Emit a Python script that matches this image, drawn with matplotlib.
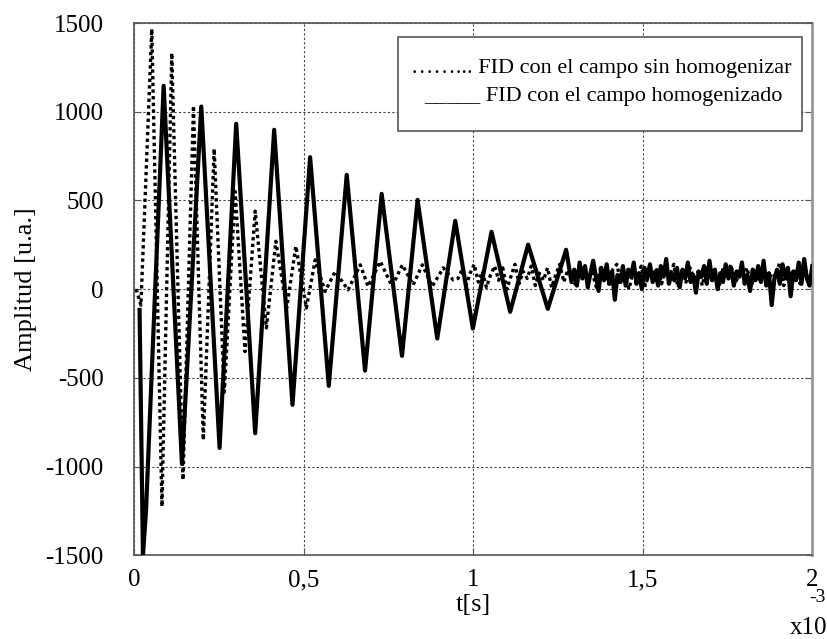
import matplotlib.pyplot as plt
import numpy as np
from matplotlib.patches import Rectangle

plt.rcParams['font.family'] = ['Liberation Serif', 'DejaVu Serif']
plt.rcParams['axes.unicode_minus'] = False

# FID con el campo homogenizado (solid) -- extrema, t in ms
t_hom = [0.016, 0.026, 0.035, 0.087, 0.141, 0.198, 0.252, 0.301, 0.357, 0.413,
         0.467, 0.519, 0.574, 0.627, 0.681, 0.730, 0.790, 0.836, 0.894, 0.947,
         0.999, 1.054, 1.109, 1.162, 1.220, 1.274]
a_hom = [-117, -1500, -1250, 1146, -985, 1029, -895, 932, -812, 898,
         -652, 744, -545, 644, -459, 537, -376, 503, -278, 385,
         -222, 323, -128, 251, -111, 222]
# tail noise of the homogenized FID (1.29 .. 2.0 ms)
noise_hom = [40, 110, 20, 150, 60, 130, 10, 90, 160, 70, -10, 120, 50, 140, 30, 100, -60, 80, 40, 130,
             20, 110, 70, 150, 30, 90, 0, 120, 60, 140, 40, 100, 20, 130, 70, 170, 30, 90, 50, 120,
             10, 110, 60, 150, 40, 80, -20, 100, 70, 130, 30, 160, 50, 110, 0, 90, 40, 140, 60, 120,
             20, 100, 70, 150, 30, 80, -10, 110, 50, 130, 40, 160, 20, 90, -90, 60, 110, 30, 140, 70,
             120, -40, 100, 50, 150, 30, 170, 60, 20, 130]

# FID con el campo sin homogenizar (dotted)
t_sin = [0.006, 0.020, 0.052, 0.082, 0.111, 0.144, 0.175, 0.204, 0.236, 0.266,
         0.298, 0.327, 0.357, 0.390, 0.418, 0.450, 0.477, 0.508, 0.534, 0.563,
         0.593, 0.631, 0.667, 0.690, 0.726, 0.761, 0.791, 0.823, 0.850, 0.879,
         0.912, 0.941]
a_sin = [0, -90, 1466, -1225, 1330, -1075, 1033, -850, 791, -580,
         550, -352, 440, -219, 270, -106, 242, -106, 165, -13,
         99, -4, 137, 15, 156, 15, 137, 24, 137, 15,
         120, 52]
noise_sin = [60, 110, 20, 90, 140, 40, 100, 10, 80, 130, 50, 120, 0, 70, 140, 30, 100, 60, 130, 20,
             90, 50, 120, 10, 80, 140, 40, 110, 60, 20, 100, 130, 50, 90, 10, 120, 70, 30, 110, 140,
             40, 80, 0, 100, 60, 130, 20, 90, 50, 120, 30, 110, 70, 140, 10, 80, 40, 120, 60, 100,
             20, 130, 50, 90, 0, 110, 70, 140, 30, 80, 60, 120, 10, 100, 50, 130, 40, 90, 70, 150,
             20, 110, 60, 100, 30, 140, 50, 80]

xticks = [0, 0.5, 1, 1.5, 2]
xticklabels = ['0', '0,5', '1', '1,5', '2']
yticks = [-1500, -1000, -500, 0, 500, 1000, 1500]

t_hom_all = np.concatenate([t_hom, np.linspace(1.29, 2.0, len(noise_hom))])
a_hom_all = np.concatenate([a_hom, noise_hom])
t_sin_all = np.concatenate([t_sin, np.linspace(0.955, 2.0, len(noise_sin))])
a_sin_all = np.concatenate([a_sin, noise_sin])

fig = plt.figure(figsize=(8.28, 6.39), dpi=100)
ax = fig.add_axes([0.162, 0.131, 0.819, 0.833])

ax.plot(t_hom_all, a_hom_all, color='black', lw=3.0, solid_joinstyle='round', zorder=3)
ax.plot(t_sin_all, a_sin_all, color='black', lw=2.4, linestyle=(0, (1, 1)), zorder=4)

ax.set_xlim(0, 2)
ax.set_ylim(-1500, 1500)
ax.set_xticks(xticks)
ax.set_xticklabels(xticklabels)
ax.set_yticks(yticks)
ax.tick_params(axis='both', labelsize=18, direction='in', length=5, color='#555')
ax.tick_params(axis='x', pad=10)
ax.tick_params(axis='y', pad=22, right=True)
ax.grid(True, color='#444', linestyle=(0, (2, 2)), linewidth=0.8)

for side in ['left', 'bottom', 'top']:
    ax.spines[side].set_color('#555')
    ax.spines[side].set_linewidth(1.2)
ax.spines['right'].set_color('#999')
ax.spines['right'].set_linewidth(2)

ax.set_ylabel('Amplitud [u.a.]', fontsize=19, labelpad=6)
ax.set_xlabel('t[s]', fontsize=19, labelpad=2)

# legend drawn as a text box, like the original
ax.add_patch(Rectangle((0.389, 0.797), 0.596, 0.177, transform=ax.transAxes,
                       facecolor='white', edgecolor='#555', lw=1.2, zorder=5))
ax.text(0.689, 0.915, '……... FID con el campo sin homogenizar', transform=ax.transAxes,
        ha='center', va='center', fontsize=16, zorder=6)
ax.text(0.692, 0.861, '_____ FID con el campo homogenizado', transform=ax.transAxes,
        ha='center', va='center', fontsize=16, zorder=6)

fig.text(0.976, 0.0, 'x10', fontsize=18, ha='center', va='bottom')
fig.text(0.997, 0.052, '-3', fontsize=14, ha='right', va='bottom')

fig.savefig('out.png', dpi=100)
